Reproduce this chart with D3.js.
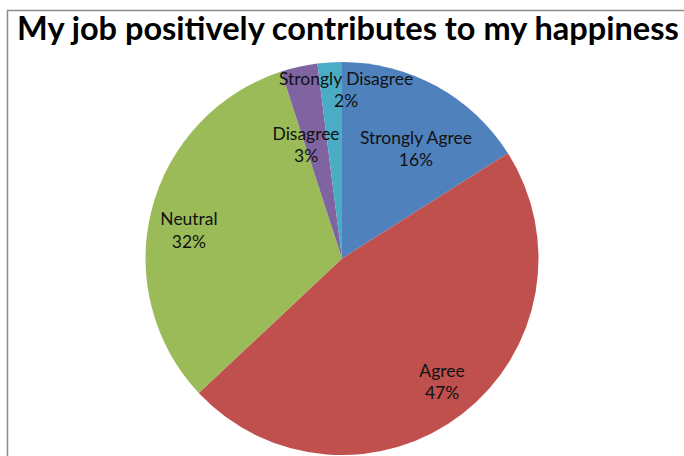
<!DOCTYPE html>
<html>
<head>
<meta charset="utf-8">
<script src="https://cdn.jsdelivr.net/npm/d3@7"></script>
<style>
  html, body { margin: 0; padding: 0; background: #fff; }
  svg { display: block; }
</style>
</head>
<body>
<svg id="chart" width="684" height="456"></svg>
<script>
// Survey responses, as shares of all answers
const categories = ["Strongly Agree", "Agree", "Neutral", "Disagree", "Strongly Disagree"];
const values = [16, 47, 32, 3, 2];
const colors = ["#4F81BD", "#C0504D", "#9BBB59", "#8064A2", "#4BACC6"];
const title = "My job positively contributes to my happiness";

const svg = d3.select("#chart");
const W = 684, H = 456;
const font = "Lato, 'Open Sans', sans-serif";

// chart frame (top and left edges visible)
svg.append("path")
  .attr("d", `M7.5,${H} V10.5 H${W}`)
  .attr("fill", "none")
  .attr("stroke", "#8c8c8c")
  .attr("stroke-width", 1.5);

// title, fitted to its span
const t = svg.append("text")
  .attr("x", 17).attr("y", 40)
  .attr("font-family", font)
  .attr("font-weight", "bold")
  .attr("font-size", 29)
  .attr("fill", "#000")
  .text(title);
const tw = t.node().getComputedTextLength();
t.attr("font-size", 29 * 662 / tw);

const cx = 342, cy = 258.5, r = 196.5;
const data = categories.map((c, i) => ({ cat: c, value: values[i], color: colors[i] }));

const pie = d3.pie().value(d => d.value).sort(null);
const arcs = pie(data);
const arc = d3.arc().innerRadius(0).outerRadius(r);

const g = svg.append("g").attr("transform", `translate(${cx},${cy})`);
g.selectAll("path.slice")
  .data(arcs)
  .join("path")
  .attr("class", "slice")
  .attr("d", arc)
  .attr("fill", d => d.data.color);

// label size: fit the widest category name to its span
const probe = svg.append("text").attr("font-family", font).attr("font-size", 16).text("Strongly Agree");
const labelSize = 16 * 112 / probe.node().getComputedTextLength();
probe.remove();

// label placement: radius (fraction of r) and angular nudge (degrees) per slice
const labelR = [0.673, 0.807, 0.792, 0.608, 0.860];
const labelNudge = [5.2, -1.3, -3.9, -4.9, 5.0];
const lineGap = 22.5;

const lab = g.selectAll("text.lab")
  .data(arcs)
  .join("text")
  .attr("class", "lab")
  .attr("font-family", font)
  .attr("font-size", labelSize)
  .attr("fill", "#111")
  .attr("text-anchor", "middle")
  .attr("transform", (d, i) => {
    const a = (d.startAngle + d.endAngle) / 2 + labelNudge[i] * Math.PI / 180;
    const rr = r * labelR[i];
    return `translate(${Math.sin(a) * rr},${-Math.cos(a) * rr})`;
  });
lab.append("tspan").attr("x", 0).attr("y", -lineGap / 2 + labelSize * 0.36).text(d => d.data.cat);
lab.append("tspan").attr("x", 0).attr("y", lineGap / 2 + labelSize * 0.36).text(d => d.data.value + "%");
</script>
</body>
</html>
